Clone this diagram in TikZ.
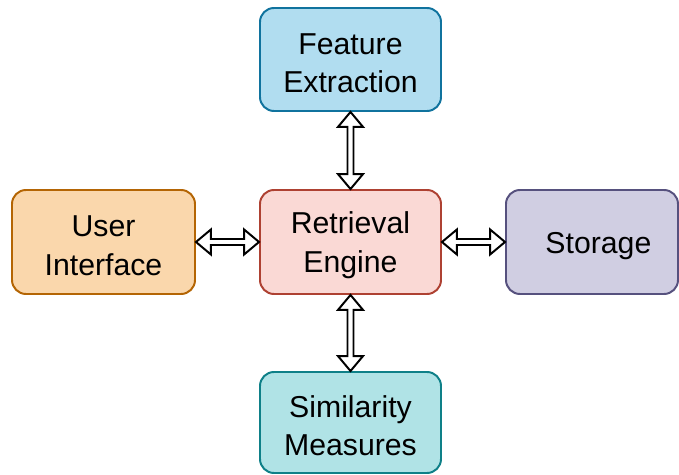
\documentclass[tikz,border=0pt]{standalone}
\usepackage{fontspec}
\setmainfont{Liberation Sans}
\usetikzlibrary{calc}
\definecolor{blueFill}{HTML}{B1DDF0}
\definecolor{blueLine}{HTML}{10739E}
\definecolor{orangeFill}{HTML}{FAD7AC}
\definecolor{orangeLine}{HTML}{B46504}
\definecolor{redFill}{HTML}{FAD9D5}
\definecolor{redLine}{HTML}{AE4132}
\definecolor{purpleFill}{HTML}{D0CEE2}
\definecolor{purpleLine}{HTML}{56517E}
\definecolor{tealFill}{HTML}{B0E3E6}
\definecolor{tealLine}{HTML}{0E8088}
\tikzset{
  module/.style={rectangle, rounded corners=0.35cm, line width=1.4pt, align=center,
    minimum width=4.525cm, minimum height=2.6cm, font=\fontsize{21.5}{27.5}\selectfont,
    text height=47.5pt},
  hollowarrow/.style={draw=black, fill=white, line width=1.4pt, line join=miter}
}
\def\arrhl{0.37cm}
\def\arrhw{0.31cm}
\def\arrsw{0.075cm}
% hollow block arrow with a head on both ends
\newcommand{\dblarrow}[2]{%
  \draw[hollowarrow] (#1)
    -- ($(#1)!\arrhl!(#2)!\arrhw!90:(#2)$)
    -- ($(#1)!\arrhl!(#2)!\arrsw!90:(#2)$)
    -- ($(#2)!\arrhl!(#1)!\arrsw!-90:(#1)$)
    -- ($(#2)!\arrhl!(#1)!\arrhw!-90:(#1)$)
    -- (#2)
    -- ($(#2)!\arrhl!(#1)!\arrhw!90:(#1)$)
    -- ($(#2)!\arrhl!(#1)!\arrsw!90:(#1)$)
    -- ($(#1)!\arrhl!(#2)!\arrsw!-90:(#2)$)
    -- ($(#1)!\arrhl!(#2)!\arrhw!-90:(#2)$)
    -- cycle;}

\begin{document}
\begin{tikzpicture}
\useasboundingbox (0,0) rectangle (16.975,11.875);

% modules
\node[module, draw=blueLine, fill=blueFill, minimum height=2.575cm] (fe) at (8.7625,10.3875) {Feature\\Extraction};
\node[module, draw=redLine, fill=redFill] (re) at (8.7625,5.825) {Retrieval\\Engine};
\node[module, draw=orangeLine, fill=orangeFill, minimum width=4.575cm] (ui) at (2.5875,5.825) {User\\Interface};
\node[module, draw=purpleLine, fill=purpleFill, minimum width=4.3cm, text height=21pt] (st) at (14.8,5.825) {\hspace*{0.32cm}Storage};
\node[module, draw=tealLine, fill=tealFill, minimum height=2.525cm] (sm) at (8.7625,1.3125) {Similarity\\Measures};

% links
\dblarrow{fe.south}{re.north}
\dblarrow{ui.east}{re.west}
\dblarrow{re.east}{st.west}
\dblarrow{re.south}{sm.north}
\end{tikzpicture}
\end{document}
